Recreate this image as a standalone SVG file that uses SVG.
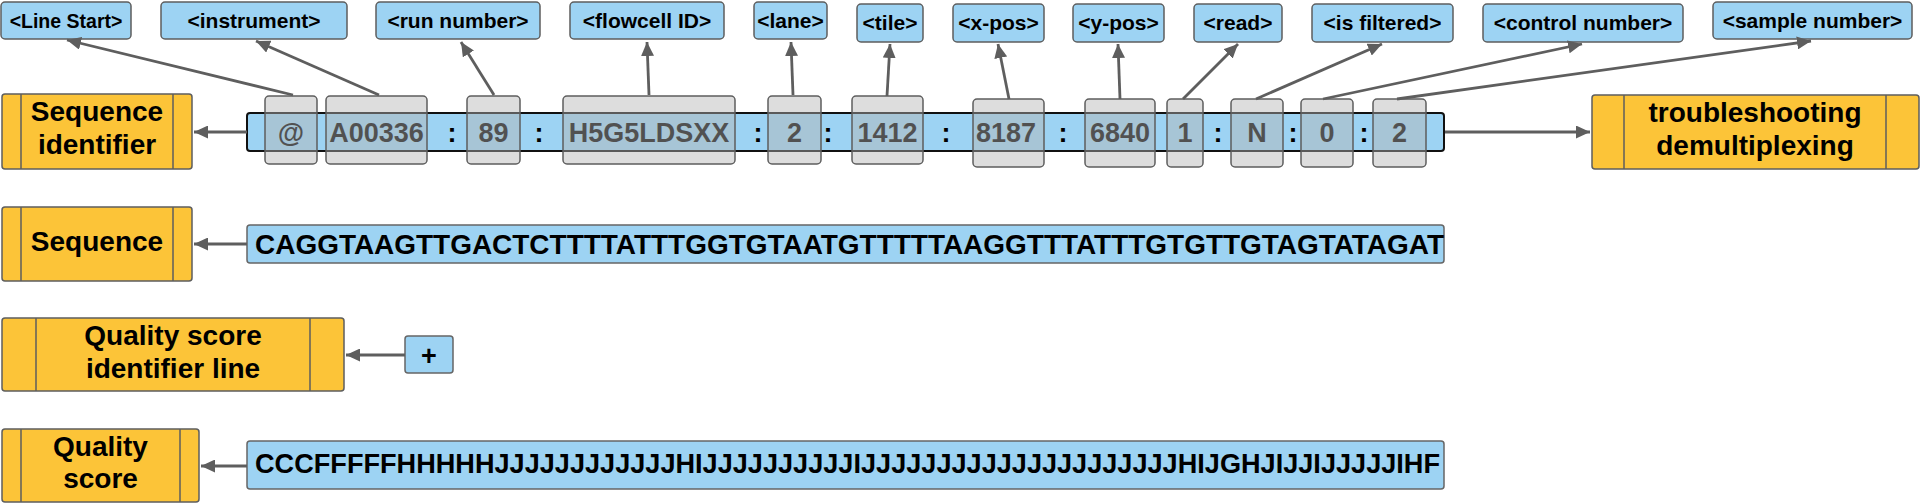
<svg xmlns="http://www.w3.org/2000/svg" width="1920" height="503" viewBox="0 0 1920 503">
<defs>
<marker id="ah" markerUnits="userSpaceOnUse" markerWidth="15" markerHeight="13" refX="14" refY="6.5" orient="auto">
<path d="M0,0 L14,6.5 L0,13 z" fill="#5e5e5e"/>
</marker>
<style>
.lbl rect{fill:#9dd3f3;stroke:#5e5e5e;stroke-width:1.5}
.lbl text{font-family:"Liberation Sans",Arial,sans-serif;font-weight:bold;font-size:21px;fill:#000;text-anchor:middle}
.org rect{fill:#fcc438;stroke:#5e5e5e;stroke-width:1.5}
.org line{stroke:#5e5e5e;stroke-width:1.5}
.org text{font-family:"Liberation Sans",Arial,sans-serif;font-weight:bold;font-size:28px;fill:#000;text-anchor:middle}
.bar{fill:#9dd3f3;stroke:#666;stroke-width:1.5}
.bt{font-family:"Liberation Sans",Arial,sans-serif;font-weight:bold;font-size:27px;fill:#000;text-anchor:middle}
.seqt{font-family:"Liberation Sans",Arial,sans-serif;font-weight:bold;font-size:27.3px;fill:#000}
.gb{fill:#b3b3b3;fill-opacity:0.45;stroke:#5e5e5e;stroke-width:1.5}
.conn line{stroke:#5e5e5e;stroke-width:2.8;fill:none;marker-end:url(#ah)}
</style>
</defs>
<rect width="1920" height="503" fill="#fff"/>

<!-- top labels -->
<g id="lbl-line-start" class="lbl"><rect x="1" y="2" width="130" height="37" rx="4"/><text x="66" y="27.5" font-size="19.5" style="font-size:19.5px">&lt;Line Start&gt;</text></g>
<g id="lbl-instrument" class="lbl"><rect x="161" y="2" width="186" height="37" rx="4"/><text x="254" y="27.5">&lt;instrument&gt;</text></g>
<g id="lbl-run-number" class="lbl"><rect x="376" y="2" width="164" height="37" rx="4"/><text x="458" y="27.5">&lt;run number&gt;</text></g>
<g id="lbl-flowcell" class="lbl"><rect x="570" y="2" width="154" height="37" rx="4"/><text x="647" y="27.5">&lt;flowcell ID&gt;</text></g>
<g id="lbl-lane" class="lbl"><rect x="754" y="2" width="73" height="37" rx="4"/><text x="790.5" y="27.5">&lt;lane&gt;</text></g>
<g id="lbl-tile" class="lbl"><rect x="857" y="4" width="66" height="38" rx="4"/><text x="890" y="30">&lt;tile&gt;</text></g>
<g id="lbl-xpos" class="lbl"><rect x="953" y="4" width="91" height="38" rx="4"/><text x="998.5" y="30">&lt;x-pos&gt;</text></g>
<g id="lbl-ypos" class="lbl"><rect x="1073" y="4" width="91" height="38" rx="4"/><text x="1118.5" y="30">&lt;y-pos&gt;</text></g>
<g id="lbl-read" class="lbl"><rect x="1194" y="4" width="88" height="38" rx="4"/><text x="1238" y="30">&lt;read&gt;</text></g>
<g id="lbl-filtered" class="lbl"><rect x="1312" y="4" width="141" height="38" rx="4"/><text x="1382.5" y="30">&lt;is filtered&gt;</text></g>
<g id="lbl-control" class="lbl"><rect x="1483" y="4" width="200" height="38" rx="4"/><text x="1583" y="30">&lt;control number&gt;</text></g>
<g id="lbl-sample" class="lbl"><rect x="1713" y="2" width="199" height="37" rx="4"/><text x="1812.5" y="27.5">&lt;sample number&gt;</text></g>

<!-- orange boxes -->
<g id="box-seq-id" class="org"><rect x="2" y="94" width="190" height="75" rx="3"/><line x1="21" y1="94" x2="21" y2="169"/><line x1="173" y1="94" x2="173" y2="169"/><text x="97" y="121">Sequence</text><text x="97" y="154">identifier</text></g>
<g id="box-trouble" class="org"><rect x="1592" y="95" width="327" height="74" rx="3"/><line x1="1624" y1="95" x2="1624" y2="169"/><line x1="1886" y1="95" x2="1886" y2="169"/><text x="1755" y="122">troubleshooting</text><text x="1755" y="155">demultiplexing</text></g>
<g id="box-sequence" class="org"><rect x="2" y="207" width="190" height="74" rx="3"/><line x1="21" y1="207" x2="21" y2="281"/><line x1="173" y1="207" x2="173" y2="281"/><text x="97" y="251">Sequence</text></g>
<g id="box-qsi" class="org"><rect x="2" y="318" width="342" height="73" rx="3"/><line x1="36" y1="318" x2="36" y2="391"/><line x1="310" y1="318" x2="310" y2="391"/><text x="173" y="345">Quality score</text><text x="173" y="378">identifier line</text></g>
<g id="box-qscore" class="org"><rect x="2" y="429" width="197" height="73" rx="3"/><line x1="21" y1="429" x2="21" y2="502"/><line x1="180" y1="429" x2="180" y2="502"/><text x="100.5" y="456">Quality</text><text x="100.5" y="488">score</text></g>

<!-- header bar -->
<g id="bar-header">
<rect x="247" y="113" width="1197" height="38" rx="3" fill="#9dd3f3" stroke="#111" stroke-width="2"/>
<g class="bt">
<text x="291" y="142">@</text>
<text x="376.5" y="142">A00336</text>
<text x="452" y="142">:</text>
<text x="493.5" y="142">89</text>
<text x="539" y="142">:</text>
<text x="649" y="142">H5G5LDSXX</text>
<text x="758" y="142">:</text>
<text x="794.5" y="142">2</text>
<text x="828" y="142">:</text>
<text x="887.5" y="142">1412</text>
<text x="946" y="142">:</text>
<text x="1006" y="142">8187</text>
<text x="1063" y="142">:</text>
<text x="1120" y="142">6840</text>
<text x="1185" y="142">1</text>
<text x="1218" y="142">:</text>
<text x="1257" y="142">N</text>
<text x="1293" y="142">:</text>
<text x="1327" y="142">0</text>
<text x="1364" y="142">:</text>
<text x="1399.5" y="142">2</text>
</g>
<rect class="gb" x="265" y="96" width="52" height="68" rx="4"/>
<rect class="gb" x="326" y="96" width="101" height="68" rx="4"/>
<rect class="gb" x="467" y="96" width="53" height="68" rx="4"/>
<rect class="gb" x="563" y="96" width="172" height="68" rx="4"/>
<rect class="gb" x="768" y="96" width="53" height="68" rx="4"/>
<rect class="gb" x="852" y="96" width="71" height="68" rx="4"/>
<rect class="gb" x="973" y="99" width="71" height="68" rx="4"/>
<rect class="gb" x="1085" y="99" width="70" height="68" rx="4"/>
<rect class="gb" x="1167" y="99" width="36" height="68" rx="4"/>
<rect class="gb" x="1231" y="99" width="52" height="68" rx="4"/>
<rect class="gb" x="1301" y="99" width="52" height="68" rx="4"/>
<rect class="gb" x="1373" y="99" width="53" height="68" rx="4"/>
</g>

<!-- sequence bar -->
<g id="bar-sequence"><rect class="bar" x="247" y="225" width="1197" height="38" rx="3"/><text class="seqt" x="255" y="254" textLength="1189" lengthAdjust="spacingAndGlyphs">CAGGTAAGTTGACTCTTTTATTTGGTGTAATGTTTTTAAGGTTTATTTGTGTTGTAGTATAGAT</text></g>

<!-- plus -->
<g id="box-plus"><rect class="bar" x="405" y="336" width="48" height="37" rx="3"/><text class="bt" x="429" y="365">+</text></g>

<!-- quality bar -->
<g id="bar-quality"><rect class="bar" x="247" y="441" width="1197" height="48" rx="3"/><text class="seqt" x="255" y="473" textLength="1185" lengthAdjust="spacingAndGlyphs">CCCFFFFFHHHHHJJJJJJJJJJJJHIJJJJJJJJJJIJJJJJJJJJJJJJJJJJJJJJHIJGHJIJJIJJJJJIHF</text></g>

<!-- connectors -->
<g id="connectors" class="conn">
<line x1="293" y1="95" x2="67" y2="40"/>
<line x1="379" y1="95" x2="256" y2="41"/>
<line x1="494" y1="95" x2="461" y2="42"/>
<line x1="649" y1="95" x2="647" y2="42"/>
<line x1="793" y1="95" x2="791" y2="42"/>
<line x1="887" y1="96" x2="890" y2="44"/>
<line x1="1009" y1="99" x2="998" y2="44"/>
<line x1="1120" y1="99" x2="1118" y2="44"/>
<line x1="1183" y1="99" x2="1238" y2="44"/>
<line x1="1256" y1="99" x2="1382" y2="44"/>
<line x1="1323" y1="99" x2="1582" y2="44"/>
<line x1="1397" y1="99" x2="1811" y2="41"/>
<line x1="247" y1="132" x2="194" y2="132"/>
<line x1="1445" y1="132" x2="1590" y2="132"/>
<line x1="247" y1="244" x2="194" y2="244"/>
<line x1="405" y1="355" x2="346" y2="355"/>
<line x1="247" y1="466" x2="201" y2="466"/>
</g>
</svg>
